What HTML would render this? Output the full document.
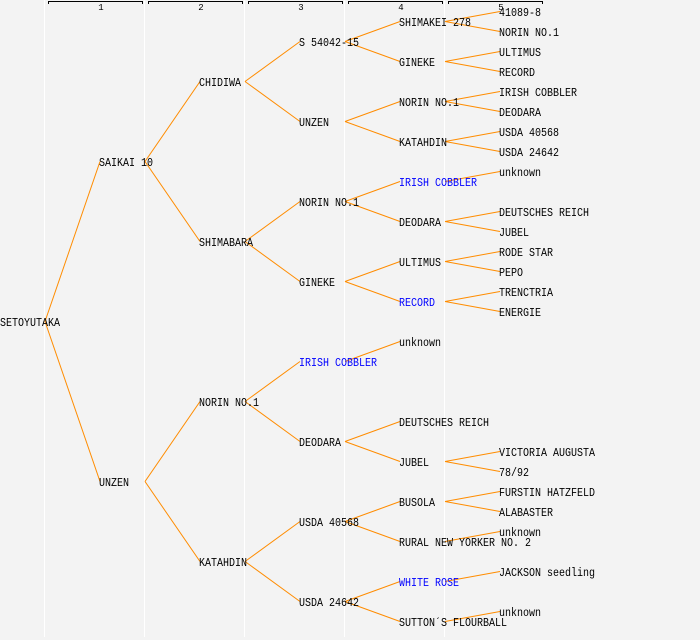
<!DOCTYPE html>
<html><head><meta charset="utf-8"><style>
html,body{margin:0;padding:0;background:#f3f3f3;}
svg{display:block}
text{font-family:"Liberation Mono","DejaVu Sans Mono",monospace;font-size:12px;fill:#000}
.b{fill:#0000ff}
.n{font-size:9px}
line.e{stroke:#ff8c00;stroke-width:1}
</style></head><body>
<svg width="700" height="640" xmlns="http://www.w3.org/2000/svg">
<rect width="700" height="640" fill="#f3f3f3"/>
<g stroke="#fff" stroke-width="1">
<line x1="44.5" y1="0" x2="44.5" y2="637"/>
<line x1="144.5" y1="0" x2="144.5" y2="637"/>
<line x1="244.5" y1="0" x2="244.5" y2="637"/>
<line x1="344.5" y1="0" x2="344.5" y2="637"/>
<line x1="444.5" y1="0" x2="444.5" y2="637"/>
</g>
<g stroke="#000" stroke-width="1" fill="none">
<path d="M48.5 4V1.5H142.5V4"/>
<path d="M148.5 4V1.5H242.5V4"/>
<path d="M248.5 4V1.5H342.5V4"/>
<path d="M348.5 4V1.5H442.5V4"/>
<path d="M448.5 4V1.5H542.5V4"/>
</g>
<g text-anchor="middle">
<text class="n" x="101" y="10">1</text>
<text class="n" x="201" y="10">2</text>
<text class="n" x="301" y="10">3</text>
<text class="n" x="401" y="10">4</text>
<text class="n" x="501" y="10">5</text>
</g>
<g id="edges"></g>
<g id="labels"></g>
</svg>
<script>
var nodes=[
[0,321,"SETOYUTAKA",0,null],
[1,161,"SAIKAI 10",0,0],[1,481,"UNZEN",0,0],
[2,81,"CHIDIWA",0,1],[2,241,"SHIMABARA",0,1],[2,401,"NORIN NO.1",0,2],[2,561,"KATAHDIN",0,2],
[3,41,"S 54042-15",0,3],[3,121,"UNZEN",0,3],[3,201,"NORIN NO.1",0,4],[3,281,"GINEKE",0,4],
[3,361,"IRISH COBBLER",1,5],[3,441,"DEODARA",0,5],[3,521,"USDA 40568",0,6],[3,601,"USDA 24642",0,6],
[4,21,"SHIMAKEI 278",0,41],[4,61,"GINEKE",0,41],[4,101,"NORIN NO.1",0,121],[4,141,"KATAHDIN",0,121],
[4,181,"IRISH COBBLER",1,201],[4,221,"DEODARA",0,201],[4,261,"ULTIMUS",0,281],[4,301,"RECORD",1,281],
[4,341,"unknown",0,361],[4,421,"DEUTSCHES REICH",0,441],[4,461,"JUBEL",0,441],
[4,501,"BUSOLA",0,521],[4,541,"RURAL NEW YORKER NO. 2",0,521],[4,581,"WHITE ROSE",1,601],[4,621,"SUTTON\u00b4S FLOURBALL",0,601],
[5,11,"41089-8",0,21],[5,31,"NORIN NO.1",0,21],[5,51,"ULTIMUS",0,61],[5,71,"RECORD",0,61],
[5,91,"IRISH COBBLER",0,101],[5,111,"DEODARA",0,101],[5,131,"USDA 40568",0,141],[5,151,"USDA 24642",0,141],
[5,171,"unknown",0,181],[5,211,"DEUTSCHES REICH",0,221],[5,231,"JUBEL",0,221],
[5,251,"RODE STAR",0,261],[5,271,"PEPO",0,261],[5,291,"TRENCTRIA",0,301],[5,311,"ENERGIE",0,301],
[5,451,"VICTORIA AUGUSTA",0,461],[5,471,"78/92",0,461],[5,491,"FURSTIN HATZFELD",0,501],[5,511,"ALABASTER",0,501],
[5,531,"unknown",0,541],[5,571,"JACKSON seedling",0,581],[5,611,"unknown",0,621]
];
var ns="http://www.w3.org/2000/svg",E=document.getElementById("edges"),L=document.getElementById("labels");
var idx={0:[0,321],1:[1,161],2:[1,481],3:[2,81],4:[2,241],5:[2,401],6:[2,561]};
nodes.forEach(function(n){
 var c=n[0],y=n[1],p=n[4];
 if(p!==null){
  var py,pc=c-1;
  if(c<=3){py=idx[p][1];}else{py=p;}
  var l=document.createElementNS(ns,"line");
  l.setAttribute("class","e");
  l.setAttribute("x1",pc*100+45);l.setAttribute("y1",py+0.5);
  l.setAttribute("x2",c*100);l.setAttribute("y2",y+0.5);
  E.appendChild(l);
 }
 var t=document.createElementNS(ns,"text");
 t.setAttribute("x",c==0?0:c*100-1);t.setAttribute("y",y+5);
 t.setAttribute("textLength",n[2].length*6);
 t.setAttribute("lengthAdjust","spacingAndGlyphs");
 if(n[3])t.setAttribute("class","b");
 t.textContent=n[2];L.appendChild(t);
});
</script>
</body></html>
